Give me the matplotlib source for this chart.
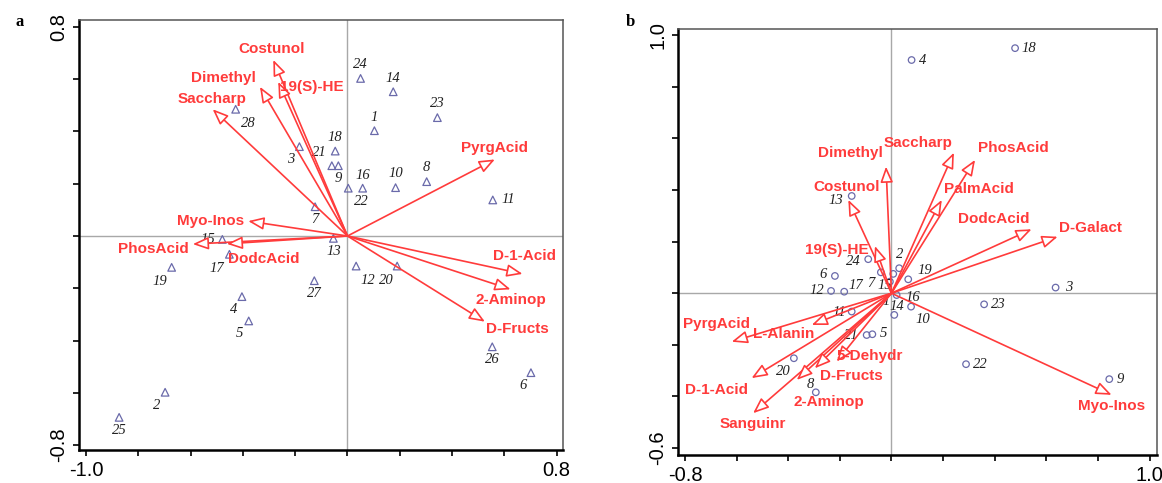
import numpy as np
import matplotlib
matplotlib.use("Agg")
import matplotlib.pyplot as plt
from matplotlib.patches import FancyArrowPatch

plt.rcParams["axes.unicode_minus"] = False

DPI = 100
RED = "#ff3b3b"
MARK = "#6a6aaa"

# ---- panel a: variable vectors (tips) ----
a_vars = ["Costunol", "19(S)-HE", "Dimethyl", "Saccharp", "Myo-Inos", "PhosAcid",
          "DodcAcid", "PyrgAcid", "D-1-Acid", "2-Aminop", "D-Fructs"]
a_vx = [-0.284, -0.265, -0.335, -0.516, -0.380, -0.592, -0.462, 0.564, 0.670, 0.624, 0.526]
a_vy = [0.674, 0.590, 0.571, 0.485, 0.057, -0.031, -0.030, 0.293, -0.145, -0.204, -0.328]

# ---- panel a: sample scores ----
a_ids = [str(i) for i in range(1, 29)]
a_sx = [0.103, -0.698, -0.184, -0.404, -0.378, 0.702, -0.124, 0.303, -0.035, 0.184,
        0.556, 0.033, -0.054, 0.175, -0.479, 0.058, -0.452, -0.047, -0.673, 0.190,
        -0.060, 0.003, 0.344, 0.050, -0.874, 0.554, -0.127, -0.428]
a_sy = [0.403, -0.598, 0.342, -0.232, -0.325, -0.523, 0.112, 0.208, 0.269, 0.185,
        0.138, -0.115, -0.009, 0.552, -0.013, 0.183, -0.070, 0.325, -0.120, -0.115,
        0.269, 0.183, 0.453, 0.603, -0.694, -0.424, -0.171, 0.485]

# ---- panel b: variable vectors (tips) ----
b_vars = ["Dimethyl", "Costunol", "19(S)-HE", "Saccharp", "PhosAcid", "PalmAcid",
          "DodcAcid", "D-Galact", "PyrgAcid", "L-Alanin", "D-1-Acid", "Sanguinr",
          "2-Aminop", "D-Fructs", "5-Dehydr", "Myo-Inos"]
b_vx = [-0.021, -0.167, -0.064, 0.242, 0.324, 0.195, 0.543, 0.644, -0.619, -0.309,
        -0.542, -0.536, -0.367, -0.297, -0.212, 0.853]
b_vy = [0.491, 0.362, 0.183, 0.545, 0.517, 0.362, 0.248, 0.219, -0.188, -0.123,
        -0.329, -0.465, -0.336, -0.291, -0.265, -0.394]

# ---- panel b: sample scores ----
b_ids = [str(i) for i in range(1, 25)]
b_sx = [0.007, 0.030, 0.636, 0.078, -0.074, -0.219, -0.041, -0.293, 0.844, 0.076,
        -0.154, -0.234, -0.154, 0.011, -0.006, 0.020, -0.183, 0.479, 0.065, -0.378,
        -0.096, 0.289, 0.359, -0.090]
b_sy = [0.075, 0.097, 0.022, 0.904, -0.159, 0.067, 0.081, -0.384, -0.333, -0.052,
        -0.071, 0.009, 0.377, -0.084, 0.045, -0.007, 0.006, 0.950, 0.054, -0.252,
        -0.162, -0.275, -0.043, 0.132]

# label offsets in pixels (dx right, dy down) from the arrow tip / marker
a_var_off = [(-2, -11), (34, 5), (-37, -9), (-1, -10), (-38, 0), (-39, 5), (37, 15),
             (0, -11), (2, -18), (0, 11), (32, 7)]
a_pt_off = [(0, -13), (-8, 13), (-9, 13), (-8, 13), (-9, 13), (-8, 13), (0, 13),
            (0, -14), (0, 13), (0, -14), (16, 0), (12, 14), (0, 13), (0, -13),
            (-14, 0), (0, -13), (-13, 14), (0, -14), (-12, 14), (-11, 14),
            (-12, -13), (13, 13), (0, -14), (0, -14), (0, 13), (0, 13), (0, 13), (13, 14)]
b_var_off = [(-36, -14), (-2, -13), (-38, 4), (-36, -10), (38, -12), (37, -11),
             (-38, -10), (33, -9), (-15, -18), (-28, 9), (-35, 12), (0, 11),
             (32, 22), (37, 8), (33, -6), (0, 11)]
b_pt_off = [(-7, 28), (0, -14), (13, 0), (11, 0), (11, -1), (-12, -1), (-10, 11),
            (-5, -8), (11, 0), (12, 13), (-12, 1), (-14, 0), (-16, 5), (3, -8),
            (-5, 4), (16, 2), (12, -6), (14, 0), (17, -9), (-11, 13), (-15, 0),
            (14, 0), (14, 0), (-15, 2)]


def px2pt(off):
    return off[0] * 72 / DPI, -off[1] * 72 / DPI


def draw_panel(ax, vars_, vx, vy, var_off, ids, sx, sy, pt_off, marker, msize,
               xlim, ylim, xticks, yticks):
    ax.set_xlim(*xlim)
    ax.set_ylim(*ylim)
    ax.axhline(0, color="#a8a8a8", lw=1.0, zorder=1)
    ax.axvline(0, color="#a8a8a8", lw=1.0, zorder=1)

    ax.scatter(sx, sy, marker=marker, s=msize, facecolors="none",
               edgecolors=MARK, linewidths=0.9, zorder=3)
    for name, x, y, off in zip(ids, sx, sy, pt_off):
        ax.annotate(name, (x, y), xytext=px2pt(off), textcoords="offset points",
                    ha="center", va="center", fontsize=10.5, style="italic",
                    family="Liberation Serif", color="#222222", zorder=4)

    for name, x, y, off in zip(vars_, vx, vy, var_off):
        arr = FancyArrowPatch((0, 0), (x, y),
                              arrowstyle="-|>,head_length=0.95,head_width=0.38",
                              mutation_scale=10, shrinkA=0, shrinkB=0,
                              color=RED, fc="white", lw=1.2, zorder=5)
        ax.add_patch(arr)
        ax.annotate(name, (x, y), xytext=px2pt(off), textcoords="offset points",
                    ha="center", va="center", fontsize=11, fontweight="bold",
                    family="Liberation Sans", color=RED, zorder=6)

    ax.set_xticks(xticks)
    ax.set_yticks(yticks)
    ax.set_xticklabels([f"{xticks[0]:.1f}"] + [""] * (len(xticks) - 2) + [f"{xticks[-1]:.1f}"])
    ax.set_yticklabels([f"{yticks[0]:.1f}"] + [""] * (len(yticks) - 2) + [f"{yticks[-1]:.1f}"],
                       rotation=90, va="center")
    ax.tick_params(direction="out", length=4, width=1.2, pad=4, labelsize=14.5)
    for lab in ax.get_xticklabels() + ax.get_yticklabels():
        lab.set_family("Liberation Sans")
    for side in ("left", "bottom"):
        ax.spines[side].set_linewidth(1.8)
        ax.spines[side].set_color("black")
    for side in ("top", "right"):
        ax.spines[side].set_linewidth(1.1)
        ax.spines[side].set_color("#555555")


fig = plt.figure(figsize=(11.62, 4.83), dpi=DPI)
ax_a = fig.add_axes([0.068, 0.0683, 0.4165, 0.8903])
ax_b = fig.add_axes([0.5837, 0.0580, 0.4118, 0.8813])

draw_panel(ax_a, a_vars, a_vx, a_vy, a_var_off, a_ids, a_sx, a_sy, a_pt_off,
           "^", 30, (-1.0275, 0.8247), (-0.819, 0.8266),
           np.round(np.arange(-1.0, 0.81, 0.2), 1), np.round(np.arange(-0.8, 0.81, 0.2), 1))
draw_panel(ax_b, b_vars, b_vx, b_vy, b_var_off, b_ids, b_sx, b_sy, b_pt_off,
           "o", 22, (-0.826, 1.028), (-0.627, 1.023),
           np.round(np.arange(-0.8, 1.01, 0.2), 1), np.round(np.arange(-0.6, 1.01, 0.2), 1))

fig.text(15 / 1162, 1 - 22 / 483, "a", family="Liberation Serif", fontweight="bold",
         fontsize=12, ha="left", va="center")
fig.text(626 / 1162, 1 - 22 / 483, "b", family="Liberation Serif", fontweight="bold",
         fontsize=12, ha="left", va="center")

fig.savefig("out.png", dpi=DPI)
